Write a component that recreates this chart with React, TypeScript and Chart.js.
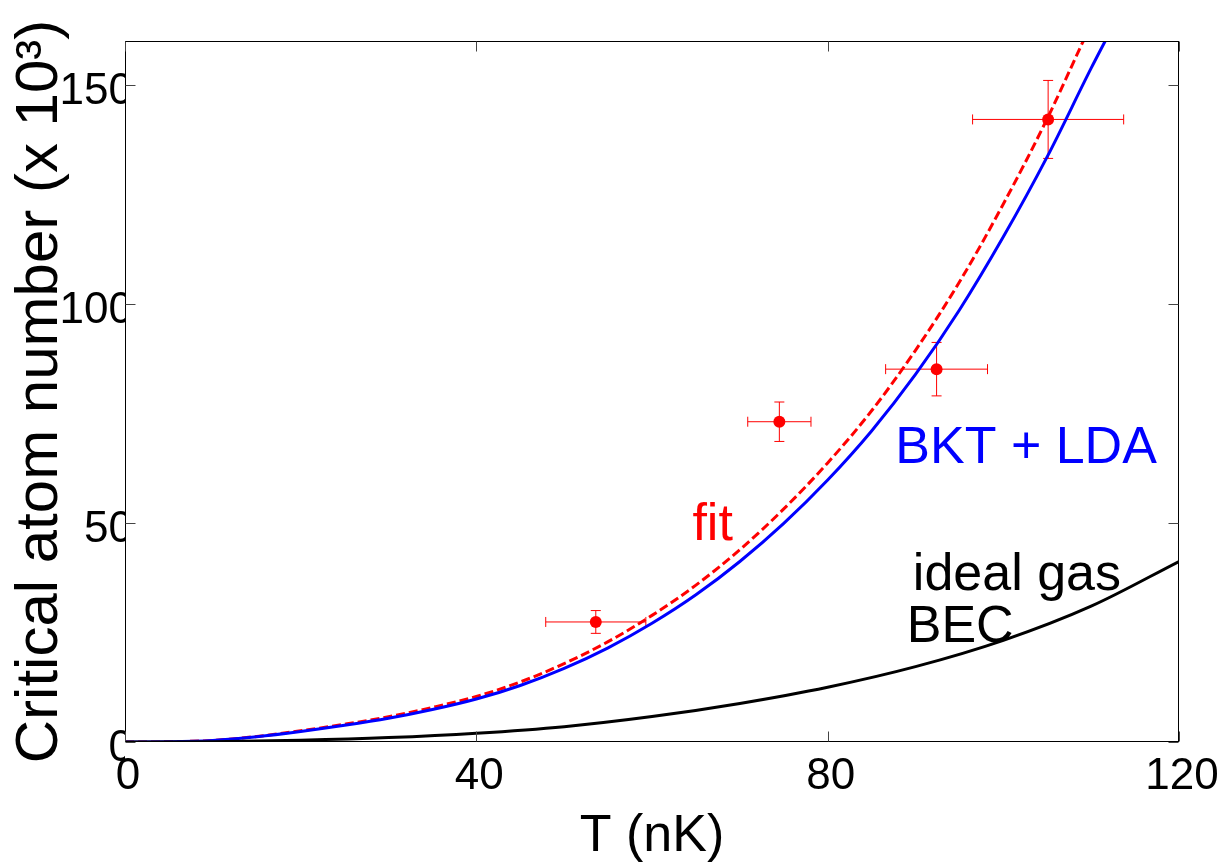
import React, { useEffect, useRef } from "react";
import { Chart, registerables } from "chart.js";

Chart.register(...registerables);

// ---- axis ticks ----
const xTickValues = [0, 40, 80, 120];
const yTickValues = [0, 50, 100, 150];

// ---- ideal gas BEC curve (black) ----
const idealT = [0, 10, 20, 30, 40, 50, 60, 70, 80, 90, 100, 110, 120];
const idealN = [0, 0.08, 0.4, 1.0, 2.0, 3.5, 5.8, 8.8, 12.5, 17.2, 23.2, 31.0, 41.2];

// ---- BKT + LDA curve (blue) ----
const bktT = [0, 5, 10, 15, 20, 25, 30, 35, 40, 45, 50, 55, 60, 65, 70, 75, 80, 85, 90, 95, 100, 105, 110, 111.6];
const bktN = [0, 0.05, 0.35, 1.2, 2.4, 3.8, 5.4, 7.4, 9.8, 12.9, 16.8, 21.5, 27.1, 33.6, 41.2, 49.9, 59.8, 71.0, 83.9, 98.6, 115.3, 133.6, 153.8, 160];

// ---- fit curve (red dashed) ----
const fitT = [0, 5, 10, 15, 20, 25, 30, 35, 40, 45, 50, 55, 60, 65, 70, 75, 80, 85, 90, 95, 100, 105, 109.1];
const fitN = [0, 0.05, 0.37, 1.27, 2.55, 4.05, 5.75, 7.9, 10.4, 13.7, 17.9, 22.9, 28.9, 35.8, 43.9, 53.2, 63.7, 75.6, 89.4, 105.0, 122.8, 142.3, 160];

// ---- measured points with error bars (red) ----
const dataT = [53.6, 74.5, 92.4, 105.1];
const dataN = [27.4, 73.1, 85.1, 142.1];
const dataTErr = [5.7, 3.6, 5.8, 8.6];
const dataNErr = [2.6, 4.5, 6.1, 8.9];

// ---- in-plot labels ----
const labelTexts = ["BKT + LDA", "fit", "ideal gas", "BEC"];
const labelT = [87.7, 64.6, 89.7, 89.0];
const labelN = [63.7, 46.1, 34.7, 22.8];
const labelColors = ["#0000ff", "#ff0000", "#000000", "#000000"];

const FONT = "'Liberation Sans', Arial, Helvetica, sans-serif";

const toXY = (xs: number[], ys: number[]) => xs.map((x, i) => ({ x, y: ys[i] }));

const errorBarPlugin = {
  id: "errorBars",
  beforeDatasetsDraw(chart: any) {
    const { ctx, scales } = chart;
    const xs = scales.x;
    const ys = scales.y;
    const cap = 5;
    ctx.save();
    ctx.strokeStyle = "#ff0000";
    ctx.lineWidth = 1;
    for (let i = 0; i < dataT.length; i++) {
      const px = xs.getPixelForValue(dataT[i]);
      const py = ys.getPixelForValue(dataN[i]);
      const x0 = xs.getPixelForValue(dataT[i] - dataTErr[i]);
      const x1 = xs.getPixelForValue(dataT[i] + dataTErr[i]);
      const y0 = ys.getPixelForValue(dataN[i] - dataNErr[i]);
      const y1 = ys.getPixelForValue(dataN[i] + dataNErr[i]);
      ctx.beginPath();
      ctx.moveTo(x0, py); ctx.lineTo(x1, py);
      ctx.moveTo(x0, py - cap); ctx.lineTo(x0, py + cap);
      ctx.moveTo(x1, py - cap); ctx.lineTo(x1, py + cap);
      ctx.moveTo(px, y0); ctx.lineTo(px, y1);
      ctx.moveTo(px - cap, y0); ctx.lineTo(px + cap, y0);
      ctx.moveTo(px - cap, y1); ctx.lineTo(px + cap, y1);
      ctx.stroke();
    }
    ctx.restore();
  },
};

const framePlugin = {
  id: "frameAndLabels",
  afterDatasetsDraw(chart: any) {
    const { ctx, chartArea: a, scales } = chart;
    const xs = scales.x;
    const ys = scales.y;
    ctx.save();
    // frame
    const L = Math.round(a.left) + 0.5;
    const R = Math.round(a.right) - 0.5;
    const T = Math.round(a.top) + 0.5;
    const B = Math.round(a.bottom) - 0.5;
    ctx.strokeStyle = "#000";
    ctx.lineWidth = 1;
    ctx.strokeRect(L, T, R - L, B - T);
    // inward ticks
    const tl = 10;
    ctx.strokeStyle = "#444";
    ctx.beginPath();
    xTickValues.forEach((v) => {
      const p = Math.round(xs.getPixelForValue(v)) + 0.5;
      ctx.moveTo(p, B); ctx.lineTo(p, B - tl);
      ctx.moveTo(p, T); ctx.lineTo(p, T + tl);
    });
    yTickValues.forEach((v) => {
      const p = Math.round(ys.getPixelForValue(v)) + 0.5;
      ctx.moveTo(L, p); ctx.lineTo(L + tl, p);
      ctx.moveTo(R, p); ctx.lineTo(R - tl, p);
    });
    ctx.stroke();
    // labels
    ctx.font = `52px ${FONT}`;
    ctx.textAlign = "left";
    ctx.textBaseline = "alphabetic";
    labelTexts.forEach((t, i) => {
      ctx.fillStyle = labelColors[i];
      ctx.fillText(t, xs.getPixelForValue(labelT[i]), ys.getPixelForValue(labelN[i]));
    });
    ctx.restore();
  },
};

export default function App() {
  const ref = useRef<HTMLCanvasElement | null>(null);

  useEffect(() => {
    if (!ref.current) return;
    const chart = new Chart(ref.current, {
      type: "scatter",
      data: {
        datasets: [
          {
            label: "ideal gas BEC",
            data: toXY(idealT, idealN),
            showLine: true,
            borderColor: "#000000",
            borderWidth: 3,
            pointRadius: 0,
            cubicInterpolationMode: "monotone",
          },
          {
            label: "BKT + LDA",
            data: toXY(bktT, bktN),
            showLine: true,
            borderColor: "#0000ff",
            borderWidth: 3,
            pointRadius: 0,
            cubicInterpolationMode: "monotone",
          },
          {
            label: "fit",
            data: toXY(fitT, fitN),
            showLine: true,
            borderColor: "#ff0000",
            borderWidth: 3,
            borderDash: [9, 4],
            pointRadius: 0,
            cubicInterpolationMode: "monotone",
          },
          {
            label: "data",
            data: toXY(dataT, dataN),
            showLine: false,
            pointRadius: 6,
            pointBackgroundColor: "#ff0000",
            pointBorderWidth: 0,
            borderColor: "#ff0000",
          },
        ],
      },
      options: {
        animation: false,
        responsive: false,
        events: [],
        layout: { padding: { top: 41, right: 53, left: 0, bottom: 0 } },
        plugins: {
          legend: { display: false },
          tooltip: { enabled: false },
        },
        scales: {
          x: {
            type: "linear",
            position: "bottom",
            min: 0,
            max: 120,
            afterBuildTicks: (axis: any) => {
              axis.ticks = xTickValues.map((v) => ({ value: v }));
            },
            afterFit: (s: any) => {
              s.height = 125;
            },
            grid: { display: false, drawTicks: false, tickLength: 0 },
            border: { display: false },
            ticks: {
              color: "#000",
              font: { family: FONT, size: 44 },
              padding: 8,
              labelOffset: 3,
              maxRotation: 0,
              autoSkip: false,
              callback: (v: any) => String(v),
            },
            title: {
              display: true,
              text: "T (nK)",
              color: "#000",
              font: { family: FONT, size: 52, lineHeight: 1 },
              padding: { top: 0, bottom: 4 },
            },
          },
          y: {
            type: "linear",
            position: "left",
            min: 0,
            max: 160,
            afterBuildTicks: (axis: any) => {
              axis.ticks = yTickValues.map((v) => ({ value: v }));
            },
            afterFit: (s: any) => {
              s.width = 125;
            },
            grid: { display: false, drawTicks: false, tickLength: 0 },
            border: { display: false },
            ticks: {
              color: "#000",
              font: { family: FONT, size: 44 },
              padding: -8,
              labelOffset: 7,
              autoSkip: false,
              callback: (v: any) => String(v),
            },
            title: {
              display: true,
              text: "Critical atom number (x 10\u00B3)",
              color: "#000",
              font: { family: FONT, size: 60, lineHeight: 1 },
              padding: { top: 10, bottom: 0 },
            },
          },
        },
      },
      plugins: [errorBarPlugin, framePlugin],
    } as any);
    return () => chart.destroy();
  }, []);

  return (
    <div style={{ position: "fixed", left: 0, top: 0, width: 1232, height: 867, background: "#fff" }}>
      <canvas ref={ref} width={1232} height={867} style={{ width: 1232, height: 867, display: "block" }} />
    </div>
  );
}
